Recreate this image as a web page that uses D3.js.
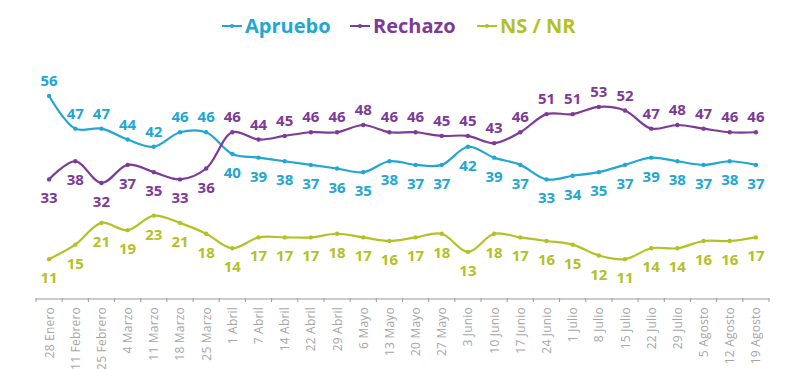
<!DOCTYPE html>
<html><head><meta charset="utf-8">
<script src="https://cdn.jsdelivr.net/npm/d3@7"></script>
<style>body{margin:0;background:#fff;} svg{display:block;}</style>
</head><body>
<svg id="chart" width="800" height="369"></svg>
<script>
const categories = ["28 Enero","11 Febrero","25 Febrero","4 Marzo","11 Marzo","18 Marzo","25 Marzo","1 Abril","7 Abril","14 Abril","22 Abril","29 Abril","6 Mayo","13 Mayo","20 Mayo","27 Mayo","3 Junio","10 Junio","17 Junio","24 Junio","1 Julio","8 Julio","15 Julio","22 Julio","29 Julio","5 Agosto","12 Agosto","19 Agosto"];
const apruebo = [56,47,47,44,42,46,46,40,39,38,37,36,35,38,37,37,42,39,37,33,34,35,37,39,38,37,38,37];
const rechazo = [33,38,32,37,35,33,36,46,44,45,46,46,48,46,46,45,45,43,46,51,51,53,52,47,48,47,46,46];
const nsnr    = [11,15,21,19,23,21,18,14,17,17,17,18,17,16,17,18,13,18,17,16,15,12,11,14,14,16,16,17];
const seriesNames = ["Apruebo","Rechazo","NS / NR"];
// label placement: number of leading points whose label sits above (rest below), per series
const apruebo_above_until = 7;   // first 7 above, then below
const rechazo_above_from = 7;    // first 7 below, then above

const colors = {"Apruebo":"#22a6d3","Rechazo":"#7d3a97","NS / NR":"#b3c124"};
const svg = d3.select("#chart");
const left = 36, right = 769, axisY = 299;
const xBand = d3.scaleBand().domain(categories).range([left, right]);
const x = d => xBand(d) + xBand.bandwidth()/2;
const y = d3.scaleLinear().domain([0, 58]).range([axisY, axisY - 58*3.625]);

const series = [
  {name:"Apruebo", values: apruebo, above: i => i < apruebo_above_until},
  {name:"Rechazo", values: rechazo, above: i => i >= rechazo_above_from},
  {name:"NS / NR", values: nsnr, above: i => false}
];

// axis
const axisG = svg.append("g");
axisG.append("line").attr("x1", left).attr("x2", right).attr("y1", axisY).attr("y2", axisY)
  .attr("stroke", "#9a9a9a").attr("stroke-width", 1);
const bounds = categories.map(c => xBand(c)).concat([xBand(categories[categories.length-1]) + xBand.bandwidth()]);
axisG.selectAll("line.tick").data(bounds).enter().append("line").attr("class","tick")
  .attr("x1", d=>d).attr("x2", d=>d).attr("y1", axisY-1).attr("y2", axisY+3)
  .attr("stroke","#9a9a9a").attr("stroke-width",1);
axisG.selectAll("text.xl").data(categories).enter().append("text").attr("class","xl")
  .attr("transform", d => `translate(${x(d)+4.5},${axisY+8}) rotate(-90)`)
  .attr("text-anchor","end")
  .attr("font-family","'Open Sans', sans-serif").attr("font-size","12px")
  .attr("letter-spacing","0.2px")
  .attr("fill","#a6a6a6").text(d=>d);

// lines
const line = d3.line().x((d,i)=>x(categories[i])).y(d=>y(d)).curve(d3.curveCatmullRom.alpha(0.5));
series.forEach(s => {
  const g = svg.append("g");
  g.append("path").datum(s.values).attr("d", line).attr("fill","none")
    .attr("stroke", colors[s.name]).attr("stroke-width", 2.2);
  g.selectAll("circle").data(s.values).enter().append("circle")
    .attr("cx",(d,i)=>x(categories[i])).attr("cy", d=>y(d)).attr("r",2.2)
    .attr("fill", colors[s.name]);
  g.selectAll("text").data(s.values).enter().append("text")
    .attr("x",(d,i)=>x(categories[i]))
    .attr("y",(d,i)=> s.above(i) ? y(d) - 10 : y(d) + 24)
    .attr("text-anchor","middle")
    .attr("font-family","'Open Sans', sans-serif").attr("font-weight","bold").attr("font-size","15px")
    .attr("fill", colors[s.name]).text(d=>d);
});

// legend
const legendItems = [
  {name:"Apruebo", lx:222, tx:245},
  {name:"Rechazo", lx:350, tx:373},
  {name:"NS / NR", lx:477, tx:500}
];
const lg = svg.append("g");
legendItems.forEach(it => {
  lg.append("line").attr("x1", it.lx).attr("x2", it.lx+20).attr("y1", 26).attr("y2", 26)
    .attr("stroke", colors[it.name]).attr("stroke-width", 2);
  lg.append("circle").attr("cx", it.lx+10).attr("cy", 26).attr("r", 2).attr("fill", colors[it.name]);
  lg.append("text").attr("x", it.tx).attr("y", 33)
    .attr("font-family","'Open Sans', sans-serif").attr("font-weight","bold").attr("font-size","20px")
    .attr("fill", colors[it.name]).text(it.name);
});
</script>
</body></html>
